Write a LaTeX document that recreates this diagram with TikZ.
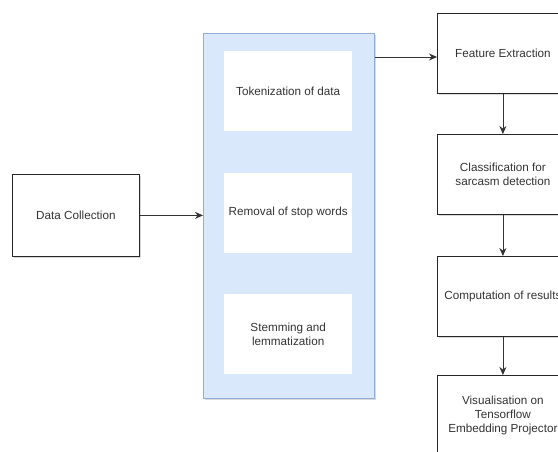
\documentclass[tikz,border=0pt]{standalone}
\usepackage{fontspec}
\setmainfont{Liberation Sans}
\usetikzlibrary{arrows.meta,shadows}
\definecolor{prepfill}{HTML}{DAE8FC}
\definecolor{prepline}{HTML}{8FAEDC}

\begin{document}
\begin{tikzpicture}[x=1pt,y=-1pt,
  stepbox/.style={draw=black!85, fill=white, line width=0.8pt, inner sep=2pt,
    minimum width=131pt, minimum height=80pt, align=center, anchor=north west,
    text=black!80, font=\fontsize{11.7}{14}\selectfont,
    drop shadow={shadow xshift=1.5pt, shadow yshift=-2pt, opacity=0.3}},
  innerbox/.style={fill=white, minimum width=128pt, minimum height=80pt,
    align=center, anchor=north west, text=black!80, font=\fontsize{11.7}{14}\selectfont},
  flow/.style={draw=black!80, line width=0.8pt, -{Stealth[length=8pt,width=7pt]}}]
\path[use as bounding box, clip] (0,0) rectangle (558,452);

% preprocessing container
\node[draw=prepline, fill=prepfill, line width=0.8pt, anchor=north west,
  minimum width=171pt, minimum height=365pt,
  drop shadow={shadow xshift=1.5pt, shadow yshift=-2pt, opacity=0.3}] (prep) at (203,33) {};
\node[innerbox] (token) at (224,51) {Tokenization of data};
\node[innerbox] (stop) at (224,172.5) {Removal of stop words};
\node[innerbox] (stem) at (224,294) {Stemming and\\lemmatization};

% left and right columns
\node[stepbox, minimum width=127pt, minimum height=82pt] (collect) at (12,174) {Data Collection};
\node[stepbox] (feat) at (437,13) {Feature Extraction};
\node[stepbox] (clas) at (437,134) {Classification for\\sarcasm detection};
\node[stepbox] (comp) at (437,256) {Computation of results};
\node[stepbox] (visu) at (437,375) {Visualisation on\\Tensorflow\\Embedding Projector};

% connectors
\draw[flow] (collect.east) -- (collect.east -| prep.west);
\draw[flow] (prep.east |- 0,57) -- (feat.west |- 0,57);
\draw[flow] (feat) -- (clas);
\draw[flow] (clas) -- (comp);
\draw[flow] (comp) -- (visu);
\end{tikzpicture}
\end{document}
